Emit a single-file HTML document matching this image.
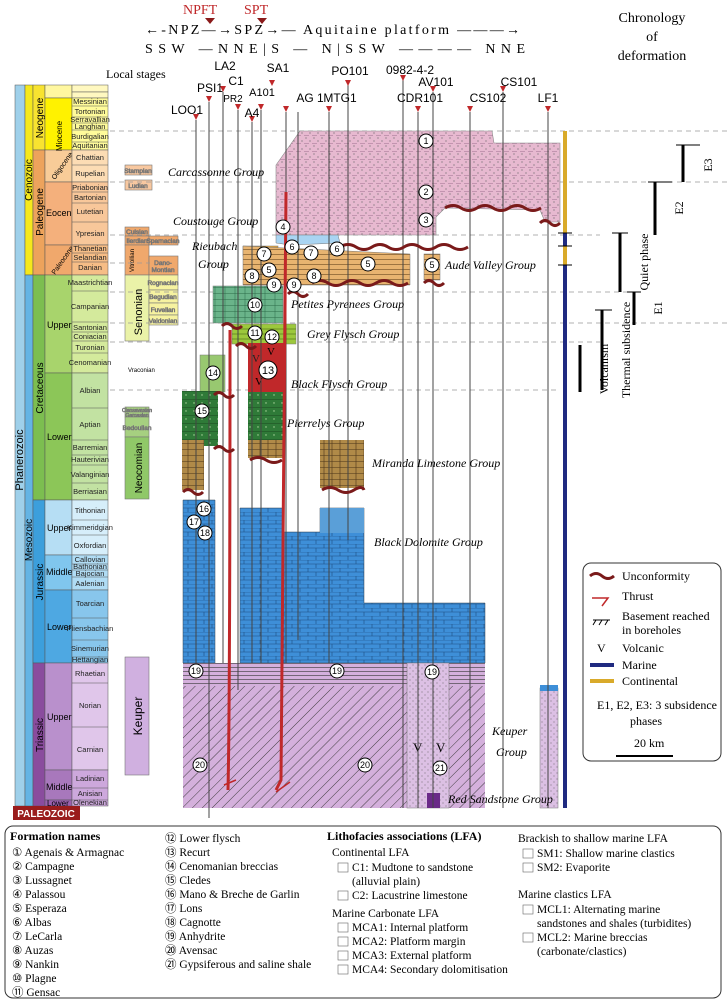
<!DOCTYPE html>
<html><head><meta charset="utf-8"><style>
body{margin:0;background:#fff;width:727px;height:1000px;overflow:hidden;font-family:"Liberation Serif",serif}
svg{display:block}
.s{font-family:"Liberation Sans",sans-serif}
</style></head><body>
<svg width="727" height="1000" viewBox="0 0 727 1000" xmlns="http://www.w3.org/2000/svg">
<defs>
<pattern id="dots" width="8" height="8" patternUnits="userSpaceOnUse"><rect width="8" height="8" fill="#e7b9d0"/><circle cx="2" cy="2" r=".6" fill="#666"/><circle cx="6" cy="5" r=".6" fill="#666"/><line x1="0" y1="7.5" x2="5" y2="7.5" stroke="#a07090" stroke-width=".5"/></pattern>
<pattern id="brick" width="16" height="8" patternUnits="userSpaceOnUse"><rect width="16" height="8" fill="#3e8fd8"/><path d="M0 0H16M0 4H16M4 0V4M12 4V8" stroke="#1d4d80" stroke-width=".6"/></pattern>
<pattern id="hatch" width="7" height="7" patternUnits="userSpaceOnUse" patternTransform="rotate(45)"><rect width="7" height="7" fill="#d4b0dc"/><line x1="0" y1="0" x2="0" y2="7" stroke="#333" stroke-width=".9"/></pattern>
<pattern id="hl" width="6" height="4" patternUnits="userSpaceOnUse"><rect width="6" height="4" fill="#d4b0dc"/><line x1="0" y1="3.5" x2="6" y2="3.5" stroke="#333" stroke-width=".6"/></pattern>
<pattern id="orng" width="10" height="5" patternUnits="userSpaceOnUse"><rect width="10" height="5" fill="#e8b470"/><line x1="0" y1="4.5" x2="10" y2="4.5" stroke="#6b4a20" stroke-width=".6"/></pattern>
<pattern id="grn" width="10" height="6" patternUnits="userSpaceOnUse"><rect width="10" height="6" fill="#6ab48a"/><path d="M0 5.5H10M5 0V6" stroke="#2b6b48" stroke-width=".5"/></pattern>
<pattern id="dgrn" width="8" height="8" patternUnits="userSpaceOnUse"><rect width="8" height="8" fill="#2f7a38"/><circle cx="2" cy="3" r=".7" fill="#b0d8a0"/><path d="M0 7.5H8" stroke="#1b4a20" stroke-width=".5"/></pattern>
<pattern id="brn" width="8" height="6" patternUnits="userSpaceOnUse"><rect width="8" height="6" fill="#b08a48"/><path d="M0 5.5H8M4 0V6" stroke="#4a3518" stroke-width=".6"/></pattern>
<pattern id="pdot" width="6" height="6" patternUnits="userSpaceOnUse"><rect width="6" height="6" fill="#dcc0e4"/><circle cx="2" cy="2" r=".5" fill="#555"/><circle cx="5" cy="5" r=".5" fill="#555"/></pattern>
</defs>

<!-- header -->
<text x="183" y="14" font-size="14" fill="#c0282a">NPFT</text>
<text x="244" y="14" font-size="14" fill="#c0282a">SPT</text>
<polygon points="205,18 215,18 210,24" fill="#8a1a1a"/><polygon points="257,18 267,18 262,24" fill="#8a1a1a"/>
<text x="145" y="34" font-size="14" textLength="375" lengthAdjust="spacing">←-NPZ—→SPZ→— Aquitaine platform ———→</text>
<text x="145" y="53" font-size="14" textLength="380" lengthAdjust="spacing">SSW —NNE|S — N|SSW ———— NNE</text>
<text x="652" y="22" font-size="14" text-anchor="middle">Chronology</text>
<text x="652" y="41" font-size="14" text-anchor="middle">of</text>
<text x="652" y="60" font-size="14" text-anchor="middle">deformation</text>
<text x="106" y="78" font-size="12">Local stages</text>

<!-- time columns -->
<rect x="15" y="85" width="10" height="721" fill="#9fd0ea" stroke="#555" stroke-width=".5"/>
<text transform="translate(23,460) rotate(-90)" font-size="11" class="s" text-anchor="middle">Phanerozoic</text>
<rect x="25" y="85" width="8" height="190" fill="#f5e81c" stroke="#555" stroke-width=".5"/>
<rect x="25" y="275" width="8" height="531" fill="#64b4e4" stroke="#555" stroke-width=".5"/>
<text transform="translate(32,180) rotate(-90)" font-size="10" class="s" text-anchor="middle">Cenozoic</text>
<text transform="translate(32,540) rotate(-90)" font-size="10" class="s" text-anchor="middle">Mesozoic</text>
<rect x="33" y="85" width="12" height="65" fill="#f8e330" stroke="#555" stroke-width=".5"/>
<rect x="33" y="150" width="12" height="125" fill="#eda35c" stroke="#555" stroke-width=".5"/>
<rect x="33" y="275" width="12" height="225" fill="#7cbe50" stroke="#555" stroke-width=".5"/>
<rect x="33" y="500" width="12" height="163" fill="#3c9fdc" stroke="#555" stroke-width=".5"/>
<rect x="33" y="663" width="12" height="143" fill="#8a4c9e" stroke="#555" stroke-width=".5"/>
<text transform="translate(43,118) rotate(-90)" font-size="10" class="s" text-anchor="middle">Neogene</text>
<text transform="translate(43,212) rotate(-90)" font-size="10" class="s" text-anchor="middle">Paleogene</text>
<text transform="translate(43,388) rotate(-90)" font-size="10" class="s" text-anchor="middle">Cretaceous</text>
<text transform="translate(43,582) rotate(-90)" font-size="10" class="s" text-anchor="middle">Jurassic</text>
<text transform="translate(43,735) rotate(-90)" font-size="10" class="s" text-anchor="middle">Triassic</text>
<g stroke="#555" stroke-width=".5">
<rect x="45" y="85" width="27" height="13" fill="#fff7a0"/>
<rect x="45" y="98" width="27" height="52" fill="#fff200"/>
<rect x="45" y="150" width="27" height="32" fill="#f8cc98"/>
<rect x="45" y="182" width="27" height="63" fill="#f4b07c"/>
<rect x="45" y="245" width="27" height="30" fill="#f0a86c"/>
<rect x="45" y="275" width="27" height="98" fill="#a8d46c"/>
<rect x="45" y="373" width="27" height="127" fill="#8cc658"/>
<rect x="45" y="500" width="27" height="55" fill="#b6def4"/>
<rect x="45" y="555" width="27" height="35" fill="#80c6ee"/>
<rect x="45" y="590" width="27" height="73" fill="#4ea8e2"/>
<rect x="45" y="663" width="27" height="107" fill="#b990cc"/>
<rect x="45" y="770" width="27" height="30" fill="#a878bc"/>
<rect x="45" y="800" width="27" height="6" fill="#9a60ae"/>
</g>
<g font-size="9" class="s">
<text transform="translate(62,136) rotate(-90)" text-anchor="middle" font-size="8">Miocene</text>
<text transform="translate(55,180) rotate(-55)" font-size="7">Oligocene</text>
<text x="46" y="216">Eocene</text>
<text transform="translate(55,275) rotate(-55)" font-size="7">Paleocene</text>
<text x="47" y="328">Upper</text><text x="47" y="440">Lower</text>
<text x="47" y="531">Upper</text><text x="46" y="575">Middle</text><text x="47" y="630">Lower</text>
<text x="47" y="720">Upper</text><text x="46" y="790">Middle</text><text x="47" y="806" font-size="8">Lower</text>
</g>
<g stroke="#555" stroke-width=".5" font-size="7.5" class="s">
<rect x="72" y="85" width="36" height="7" fill="#fff8c0"/><rect x="72" y="92" width="36" height="6" fill="#fff8c0"/>
<rect x="72" y="98" width="36" height="52" fill="#fffb9a"/>
<rect x="72" y="150" width="36" height="32" fill="#fcdcb4"/>
<rect x="72" y="182" width="36" height="63" fill="#f8c79a"/>
<rect x="72" y="245" width="36" height="30" fill="#f6bd86"/>
<rect x="72" y="275" width="36" height="98" fill="#d4ea9c"/>
<rect x="72" y="373" width="36" height="127" fill="#c2e2a2"/>
<rect x="72" y="500" width="36" height="55" fill="#d6eefa"/>
<rect x="72" y="555" width="36" height="35" fill="#b0dcf4"/>
<rect x="72" y="590" width="36" height="73" fill="#88c6ec"/>
<rect x="72" y="663" width="36" height="107" fill="#e0c6ea"/>
<rect x="72" y="770" width="36" height="36" fill="#cda8dc"/>
<path d="M72 106H108M72 117H108M72 123H108M72 130H108M72 142H108M72 165H108M72 192H108M72 203H108M72 222H108M72 253H108M72 262H108M72 291H108M72 322H108M72 332H108M72 341H108M72 353H108M72 408H108M72 440H108M72 455H108M72 465H108M72 483H108M72 520H108M72 535H108M72 564H108M72 570H108M72 577H108M72 618H108M72 640H108M72 657H108M72 683H108M72 727H108M72 788H108M72 800H108" fill="none"/>
</g>
<g font-size="7.5" class="s" text-anchor="middle" fill="#222">
<text x="90" y="104">Messinian</text><text x="90" y="114">Tortonian</text><text x="90" y="122">Serravallian</text><text x="90" y="129">Langhian</text><text x="90" y="139">Burdigalian</text><text x="90" y="148">Aquitanian</text>
<text x="90" y="160">Chattian</text><text x="90" y="176">Rupelian</text><text x="90" y="190">Priabonian</text><text x="90" y="200">Bartonian</text><text x="90" y="214">Lutetian</text><text x="90" y="236">Ypresian</text><text x="90" y="251">Thanetian</text><text x="90" y="260">Selandian</text><text x="90" y="270">Danian</text>
<text x="90" y="285">Maastrichtian</text><text x="90" y="309">Campanian</text><text x="90" y="330">Santonian</text><text x="90" y="339">Coniacian</text><text x="90" y="350">Turonian</text><text x="90" y="365">Cenomanian</text><text x="90" y="393">Albian</text><text x="90" y="427">Aptian</text><text x="90" y="450">Barremian</text><text x="90" y="462">Hauterivian</text><text x="90" y="477">Valanginian</text><text x="90" y="494">Berriasian</text>
<text x="90" y="513">Tithonian</text><text x="90" y="530">Kimmeridgian</text><text x="90" y="548">Oxfordian</text><text x="90" y="562">Callovian</text><text x="90" y="569">Bathonian</text><text x="90" y="576">Bajocian</text><text x="90" y="586">Aalenian</text><text x="90" y="606">Toarcian</text><text x="90" y="631">Pliensbachian</text><text x="90" y="651">Sinemurian</text><text x="90" y="662">Hettangian</text>
<text x="90" y="676">Rhaetian</text><text x="90" y="708">Norian</text><text x="90" y="752">Carnian</text><text x="90" y="781">Ladinian</text><text x="90" y="796">Anisian</text><text x="90" y="805">Olenekian</text>
</g>
<rect x="13" y="806" width="67" height="14" fill="#9a1c1c"/>
<text x="46" y="817" font-size="10" class="s" font-weight="bold" fill="#fff" text-anchor="middle">PALEOZOIC</text>

<!-- local stages -->
<g stroke="#777" stroke-width=".6" font-size="6.5" class="s" text-anchor="middle">
<rect x="125" y="165" width="27" height="10" fill="#f8c8a0"/><text x="138" y="173">Stampian</text>
<rect x="125" y="180" width="27" height="10" fill="#f8c8a0"/><text x="138" y="188">Ludian</text>
<rect x="125" y="227" width="24" height="9" fill="#f0a86c"/><text x="137" y="234">Cuisian</text>
<rect x="125" y="236" width="24" height="9" fill="#f0a86c"/><text x="137" y="243">Ilerdian</text>
<rect x="149" y="236" width="29" height="9" fill="#f0a86c"/><text x="163" y="243">Sparnacian</text>
<rect x="125" y="245" width="24" height="30" fill="#f0a86c"/>
<rect x="149" y="256" width="29" height="19" fill="#f0a86c"/><text x="163" y="265">Dano-</text><text x="163" y="272">Montian</text>
<rect x="125" y="275" width="24" height="66" fill="#eaf2a8"/>
<rect x="149" y="275" width="29" height="15" fill="#f6f2a0"/><text x="163" y="285">Rognacian</text>
<rect x="149" y="290" width="29" height="13" fill="#f6f2a0"/><text x="163" y="299">Begudian</text>
<rect x="149" y="303" width="29" height="12" fill="#f6f2a0"/><text x="163" y="312">Fuvelian</text>
<rect x="149" y="315" width="29" height="10" fill="#f6f2a0"/><text x="163" y="323">Valdonian</text>
<rect x="125" y="407" width="24" height="5" fill="#a6d080"/><text x="137" y="412" font-size="5">Clansayesian</text>
<rect x="125" y="412" width="24" height="5" fill="#a6d080"/><text x="137" y="417" font-size="5">Gargasian</text>
<rect x="125" y="417" width="24" height="20" fill="#a6d080"/><text x="137" y="430">Bedoulian</text>
<rect x="125" y="437" width="24" height="62" fill="#90c868"/>
<rect x="125" y="657" width="24" height="118" fill="#d0b0e0"/>
</g>
<text transform="translate(134,272) rotate(-90)" font-size="6" class="s">Vitrollian</text>
<text transform="translate(142,312) rotate(-90)" font-size="11" class="s" text-anchor="middle">Senonian</text>
<text transform="translate(142,468) rotate(-90)" font-size="10" class="s" text-anchor="middle">Neocomian</text>
<text transform="translate(142,716) rotate(-90)" font-size="12" class="s" text-anchor="middle">Keuper</text>
<text x="128" y="372" font-size="6" class="s">Vraconian</text>

<!-- dashed lines -->
<g stroke="#999" stroke-width=".7" stroke-dasharray="5,4">
<path d="M110 131H727M110 182H727M110 235H600M110 263H150M110 292H640M110 323H727M110 342H600M110 390H560"/>
</g>

<!-- blocks -->
<path d="M276,165 L300,131 L492,131 L494,143 L560,143 L560,222 L545,222 L540,210 L445,208 L436,217 L436,235 L276,235 Z" fill="url(#dots)" stroke="#888" stroke-width=".6"/>
<path d="M276,235 L338,235 L340,243 L290,245 L276,243Z" fill="#a9d4f2" stroke="#777" stroke-width=".5"/>
<rect x="243" y="246" width="35" height="10" fill="#e3a53a" stroke="#777" stroke-width=".5"/>
<path d="M243,246 L410,254 L410,285 L243,285 Z" fill="url(#orng)" stroke="#777" stroke-width=".5"/>
<rect x="424" y="254" width="16" height="26" fill="url(#orng)" stroke="#777" stroke-width=".5"/>
<rect x="213" y="286" width="70" height="37" fill="url(#grn)" stroke="#777" stroke-width=".5"/>
<rect x="232" y="324" width="64" height="20" fill="#9cc83c" stroke="#777" stroke-width=".5"/>
<path d="M232 329H296M232 334H296M232 339H296" stroke="#3a5a10" stroke-width=".5"/>
<rect x="248" y="343" width="36" height="49" fill="#c0282a"/>
<text x="252" y="362" font-size="11" fill="#222">V</text><text x="267" y="355" font-size="11">V</text><text x="255" y="385" font-size="11">V</text>
<rect x="200" y="355" width="25" height="37" fill="#98c870" stroke="#777" stroke-width=".5"/>
<rect x="182" y="391" width="36" height="55" fill="url(#dgrn)"/>
<rect x="248" y="392" width="35" height="58" fill="url(#dgrn)"/>
<rect x="182" y="440" width="22" height="50" fill="url(#brn)"/>
<rect x="248" y="440" width="35" height="18" fill="url(#brn)"/>
<rect x="320" y="440" width="44" height="48" fill="url(#brn)"/>
<path d="M183,500 L215,500 L215,663 L183,663 Z M240,508 L283,508 L283,532 L320,532 L320,508 L364,508 L364,603 L485,603 L485,663 L240,663 Z" fill="url(#brick)" stroke="#345" stroke-width=".5"/>
<rect x="320" y="508" width="44" height="25" fill="#5a9fd8"/>
<rect x="183" y="663" width="302" height="23" fill="url(#hl)"/>
<rect x="183" y="686" width="302" height="122" fill="url(#hatch)"/>
<rect x="407" y="663" width="42" height="145" fill="url(#pdot)" stroke="#777" stroke-width=".5"/>
<rect x="540" y="688" width="18" height="120" fill="url(#pdot)" stroke="#777" stroke-width=".5"/>
<rect x="540" y="685" width="18" height="6" fill="#3e8fd8"/>
<rect x="427" y="793" width="13" height="15" fill="#6a2a88"/>
<text x="413" y="752" font-size="13">V</text><text x="436" y="752" font-size="13">V</text>

<!-- well lines -->
<g stroke="#444" stroke-width="1">
<path d="M196 120V663M209 102V818M223 92V663M238 110V690M252 122V663M261 110V663M286 112V663M298 112V640M329 112V663M348 85V540M403 80V808M418 112V808M433 92V808M470 112V808M503 92V808M548 112V808"/>
</g>
<g fill="#c0282a">
<polygon points="193,114 199,114 196,120"/><polygon points="206,96 212,96 209,102"/><polygon points="220,86 226,86 223,92"/><polygon points="235,104 241,104 238,110"/><polygon points="249,116 255,116 252,122"/><polygon points="258,104 264,104 261,110"/><polygon points="269,80 275,80 272,86"/><polygon points="283,106 289,106 286,112"/><polygon points="326,106 332,106 329,112"/><polygon points="345,80 351,80 348,86"/><polygon points="400,75 406,75 403,81"/><polygon points="415,106 421,106 418,112"/><polygon points="430,86 436,86 433,92"/><polygon points="467,106 473,106 470,112"/><polygon points="500,86 506,86 503,92"/><polygon points="545,106 551,106 548,112"/>
</g>
<g class="s" font-size="12" text-anchor="middle">
<text x="210" y="92">PSI1</text><text x="225" y="70">LA2</text><text x="236" y="85">C1</text><text x="233" y="102" font-size="10">PR2</text>
<text x="187" y="114">LOO1</text><text x="262" y="96" font-size="11">A101</text><text x="278" y="72">SA1</text><text x="252" y="117">A4</text>
<text x="310" y="102">AG 1</text><text x="340" y="102">MTG1</text><text x="350" y="75">PO101</text><text x="410" y="74">0982-4-2</text>
<text x="420" y="102">CDR101</text><text x="436" y="86">AV101</text><text x="488" y="102">CS102</text><text x="519" y="86">CS101</text><text x="548" y="102">LF1</text>
</g>

<!-- thrusts -->
<g stroke="#c0282a" stroke-width="3" fill="none">
<path d="M230,330 C230,500 230,700 228,790"/>
<path d="M286,192 C286,400 282,600 281,780 L276,790"/>
</g>
<path d="M224,785 L236,780 M276,792 L290,782" stroke="#c0282a" stroke-width="1.5"/>
<!-- unconformities -->
<g stroke="#7a1a1a" stroke-width="3" fill="none">
<path d="M340,247 q8,-5 16,0 t16,0 t16,0 t16,0 t16,0 t16,0 t16,0 t16,0"/>
<path d="M445,208 q8,-5 16,0 t16,0 t16,0 t16,0 t16,0 t16,0"/>
<path d="M540,223 q5,-5 10,0 t10,0"/>
<path d="M312,283 q8,-5 16,0 t16,0 t16,0 t16,0 t16,0 t16,0"/><path d="M424,283 q5,-5 10,0 t10,0"/>
<path d="M288,294 q5,-5 10,0 t10,0"/><path d="M222,326 q5,-5 10,0 t10,0"/><path d="M236,346 q5,-5 10,0 t10,0"/>
<path d="M214,395 q5,-5 10,0 t10,0"/><path d="M214,449 q5,-5 10,0 t10,0"/><path d="M250,460 q8,-5 16,0 t16,0"/>
<path d="M183,492 q5,-5 10,0 t10,0"/><path d="M322,490 q8,-5 16,0 t16,0 t10,0"/>
</g>
<!-- numbered circles -->
<g font-size="9" class="s" text-anchor="middle">
<g fill="#fff" stroke="#000" stroke-width="1">
<circle cx="426" cy="141" r="7"/><circle cx="426" cy="192" r="7"/><circle cx="426" cy="220" r="7"/><circle cx="283" cy="227" r="7"/><circle cx="292" cy="247" r="7"/><circle cx="311" cy="253" r="7"/><circle cx="337" cy="249" r="7"/><circle cx="264" cy="254" r="7"/><circle cx="368" cy="264" r="7"/><circle cx="432" cy="265" r="7"/><circle cx="269" cy="270" r="7"/><circle cx="252" cy="276" r="7"/><circle cx="314" cy="276" r="7"/><circle cx="274" cy="285" r="7"/><circle cx="294" cy="285" r="7"/><circle cx="255" cy="305" r="7"/><circle cx="255" cy="333" r="7"/><circle cx="272" cy="337" r="7"/><circle cx="268" cy="370" r="9"/><circle cx="213" cy="373" r="7"/><circle cx="202" cy="411" r="7"/><circle cx="204" cy="509" r="7"/><circle cx="194" cy="522" r="7"/><circle cx="205" cy="533" r="7"/><circle cx="196" cy="671" r="7"/><circle cx="337" cy="671" r="7"/><circle cx="432" cy="672" r="7"/><circle cx="200" cy="765" r="7"/><circle cx="365" cy="765" r="7"/><circle cx="440" cy="768" r="7"/>
</g>
<text x="426" y="144">1</text><text x="426" y="195">2</text><text x="426" y="223">3</text><text x="283" y="230">4</text><text x="292" y="250">6</text><text x="311" y="256">7</text><text x="337" y="252">6</text><text x="264" y="257">7</text><text x="368" y="267">5</text><text x="432" y="268">5</text><text x="269" y="273">5</text><text x="252" y="279">8</text><text x="314" y="279">8</text><text x="274" y="288">9</text><text x="294" y="288">9</text><text x="255" y="308">10</text><text x="255" y="336">11</text><text x="272" y="340">12</text><text x="268" y="374" font-size="11">13</text><text x="213" y="376">14</text><text x="202" y="414">15</text><text x="204" y="512">16</text><text x="194" y="525">17</text><text x="205" y="536">18</text><text x="196" y="674">19</text><text x="337" y="674">19</text><text x="432" y="675">19</text><text x="200" y="768">20</text><text x="365" y="768">20</text><text x="440" y="771">21</text>
</g>
<!-- group labels -->
<g font-style="italic" font-size="12">
<text x="168" y="176">Carcassonne Group</text>
<text x="173" y="225">Coustouge Group</text>
<text x="192" y="250">Rieubach</text><text x="198" y="268">Group</text>
<text x="445" y="269">Aude Valley Group</text>
<text x="291" y="308">Petites Pyrenees Group</text>
<text x="307" y="338">Grey Flysch Group</text>
<text x="291" y="388">Black Flysch Group</text>
<text x="287" y="427">Pierrelys Group</text>
<text x="372" y="467">Miranda Limestone Group</text>
<text x="374" y="546">Black Dolomite Group</text>
<text x="492" y="735">Keuper</text><text x="496" y="756">Group</text>
<text x="448" y="803">Red Sandstone Group</text>
</g>

<!-- right bars -->
<rect x="563" y="131" width="4" height="102" fill="#d9aa2a"/>
<rect x="563" y="233" width="4" height="575" fill="#1f2a80"/>
<rect x="563" y="246" width="4" height="19" fill="#d9aa2a"/>
<path d="M558 233H572M558 246H572M558 265H572" stroke="#000"/>
<g stroke="#000" stroke-width="3">
<path d="M683 145V182M655 182V235M620 233V292M634 292V325M602 310V390M580 345V392"/>
</g>
<path d="M676 145H700M648 182H672M612 233H628M627 292H641M595 310H612" stroke="#000"/>
<g font-size="12">
<text transform="translate(712,165) rotate(-90)" text-anchor="middle">E3</text>
<text transform="translate(683,208) rotate(-90)" text-anchor="middle">E2</text>
<text transform="translate(648,262) rotate(-90)" text-anchor="middle">Quiet phase</text>
<text transform="translate(662,308) rotate(-90)" text-anchor="middle">E1</text>
<text transform="translate(630,350) rotate(-90)" text-anchor="middle">Thermal subsidence</text>
<text transform="translate(608,369) rotate(-90)" text-anchor="middle">Volcanism</text>
</g>

<!-- right legend -->
<rect x="583" y="563" width="138" height="198" rx="8" fill="#fff" stroke="#333"/>
<g font-size="12">
<path d="M590,576 q6,-5 12,0 t12,0" stroke="#7a1a1a" stroke-width="3" fill="none"/><text x="622" y="580">Unconformity</text>
<path d="M592,598 H608 L602,606" stroke="#c0282a" stroke-width="1.5" fill="none"/><text x="622" y="600">Thrust</text>
<path d="M593,620 H610 M596,620 l-3,5 M602,620 l-3,5 M608,620 l-3,5" stroke="#000" fill="none"/><text x="622" y="620">Basement reached</text><text x="622" y="634">in boreholes</text>
<text x="597" y="652">V</text><text x="622" y="652">Volcanic</text>
<rect x="590" y="663" width="24" height="4" fill="#1f2a80"/><text x="622" y="669">Marine</text>
<rect x="590" y="679" width="24" height="4" fill="#d9aa2a"/><text x="622" y="685">Continental</text>
<text x="597" y="709">E1, E2, E3: 3 subsidence</text><text x="630" y="725">phases</text>
<text x="634" y="747">20 km</text>
<path d="M616 756H673" stroke="#000" stroke-width="2"/>
</g>

<!-- bottom formation legend -->
<rect x="5" y="826" width="716" height="172" rx="8" fill="#fff" stroke="#333"/>
<g font-size="11.5">
<text x="10" y="840" font-weight="bold" font-size="12">Formation names</text>
<text x="12" y="856">① Agenais &amp; Armagnac</text><text x="12" y="870">② Campagne</text><text x="12" y="884">③ Lussagnet</text><text x="12" y="898">④ Palassou</text><text x="12" y="912">⑤ Esperaza</text><text x="12" y="926">⑥ Albas</text><text x="12" y="940">⑦ LeCarla</text><text x="12" y="954">⑧ Auzas</text><text x="12" y="968">⑨ Nankin</text><text x="12" y="982">⑩ Plagne</text><text x="12" y="996">⑪ Gensac</text>
<text x="165" y="842">⑫ Lower flysch</text><text x="165" y="856">⑬ Recurt</text><text x="165" y="870">⑭ Cenomanian breccias</text><text x="165" y="884">⑮ Cledes</text><text x="165" y="898">⑯ Mano &amp; Breche de Garlin</text><text x="165" y="912">⑰ Lons</text><text x="165" y="926">⑱ Cagnotte</text><text x="165" y="940">⑲ Anhydrite</text><text x="165" y="954">⑳ Avensac</text><text x="165" y="968">㉑ Gypsiferous and saline shale</text>
<text x="327" y="840" font-weight="bold" font-size="12">Lithofacies associations (LFA)</text>
<text x="332" y="856">Continental LFA</text>
<text x="352" y="871">C1: Mudtone to sandstone</text><text x="352" y="885">(alluvial plain)</text>
<text x="352" y="899">C2: Lacustrine limestone</text>
<text x="332" y="917">Marine Carbonate LFA</text>
<text x="352" y="931">MCA1: Internal platform</text><text x="352" y="945">MCA2: Platform margin</text><text x="352" y="959">MCA3: External platform</text><text x="352" y="973">MCA4: Secondary dolomitisation</text>
<text x="518" y="842">Brackish to shallow marine LFA</text>
<text x="537" y="857">SM1: Shallow marine clastics</text><text x="537" y="871">SM2: Evaporite</text>
<text x="518" y="898">Marine clastics LFA</text>
<text x="537" y="913">MCL1: Alternating marine</text><text x="537" y="927">sandstones and shales (turbidites)</text>
<text x="537" y="941">MCL2: Marine breccias</text><text x="537" y="955">(carbonate/clastics)</text>
</g>
<g fill="#fff" stroke="#666" stroke-width=".6">
<rect x="338" y="863" width="10" height="9"/><rect x="338" y="891" width="10" height="9"/><rect x="338" y="923" width="10" height="9"/><rect x="338" y="937" width="10" height="9"/><rect x="338" y="951" width="10" height="9"/><rect x="338" y="965" width="10" height="9"/>
<rect x="523" y="849" width="10" height="9"/><rect x="523" y="863" width="10" height="9"/><rect x="523" y="905" width="10" height="9"/><rect x="523" y="933" width="10" height="9"/>
</g>
</svg>
</body></html>
